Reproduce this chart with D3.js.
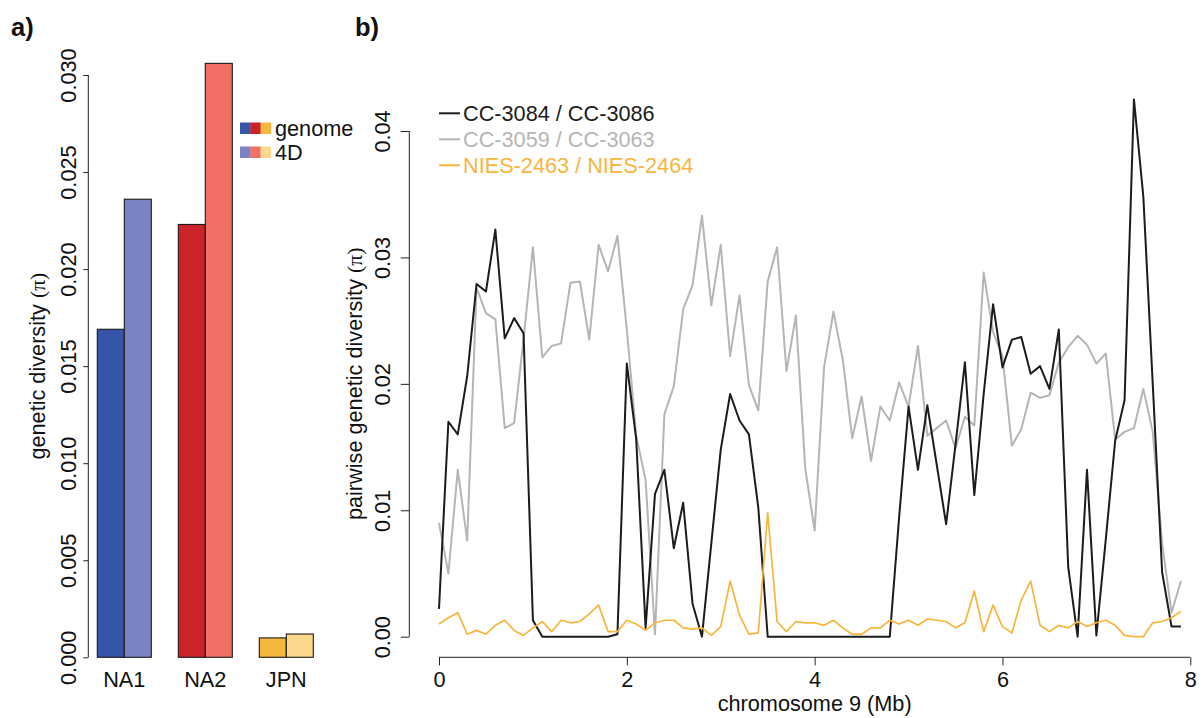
<!DOCTYPE html>
<html>
<head>
<meta charset="utf-8">
<script src="https://cdn.jsdelivr.net/npm/d3@7"></script>
<style>
  html, body { margin: 0; padding: 0; background: #fff; }
  svg { display: block; font-family: "Liberation Sans", Arial, Helvetica, sans-serif; }
</style>
</head>
<body>
<svg id="fig" width="1203" height="718"></svg>
<script>
// ---- panel a: genome-wide vs. fourfold-degenerate (4D) diversity ----
const populations = ["NA1", "NA2", "JPN"];
const siteClasses = ["genome", "4D"];
const piGenome = [0.0169, 0.0223, 0.0010];
const pi4D = [0.0236, 0.0306, 0.0012];
const colorsGenome = ["#3654aa", "#cc2229", "#f5b83d"];
const colors4D = ["#7b83c2", "#f07068", "#fad98f"];
const barTicks = [0, 0.005, 0.010, 0.015, 0.020, 0.025, 0.030];

// ---- panel b: pairwise diversity along chromosome 9 (100 kb windows) ----
const windowStartMb = [
  0.0, 0.1, 0.2, 0.3, 0.4, 0.5, 0.6, 0.7, 0.8, 0.9,
  1.0, 1.1, 1.2, 1.3, 1.4, 1.5, 1.6, 1.7, 1.8, 1.9,
  2.0, 2.1, 2.2, 2.3, 2.4, 2.5, 2.6, 2.7, 2.8, 2.9,
  3.0, 3.1, 3.2, 3.3, 3.4, 3.5, 3.6, 3.7, 3.8, 3.9,
  4.0, 4.1, 4.2, 4.3, 4.4, 4.5, 4.6, 4.7, 4.8, 4.9,
  5.0, 5.1, 5.2, 5.3, 5.4, 5.5, 5.6, 5.7, 5.8, 5.9,
  6.0, 6.1, 6.2, 6.3, 6.4, 6.5, 6.6, 6.7, 6.8, 6.9,
  7.0, 7.1, 7.2, 7.3, 7.4, 7.5, 7.6, 7.7, 7.8, 7.9
];
const piCC3084_CC3086 = [
  0.0022, 0.0170, 0.0160, 0.0206, 0.0279, 0.0273, 0.0322, 0.0236, 0.0252, 0.0240,
  0.0013, 0.0000, 0.0000, 0.0000, 0.0000, 0.0000, 0.0000, 0.0000, 0.0000, 0.0002,
  0.0216, 0.0156, 0.0007, 0.0113, 0.0132, 0.0070, 0.0106, 0.0026, 0.0000, 0.0074,
  0.0148, 0.0192, 0.0171, 0.0160, 0.0102, 0.0000, 0.0000, 0.0000, 0.0000, 0.0000,
  0.0000, 0.0000, 0.0000, 0.0000, 0.0000, 0.0000, 0.0000, 0.0000, 0.0000, 0.0095,
  0.0182, 0.0132, 0.0183, 0.0136, 0.0089, 0.0152, 0.0217, 0.0112, 0.0192, 0.0263,
  0.0213, 0.0235, 0.0237, 0.0208, 0.0214, 0.0196, 0.0243, 0.0055, 0.0000, 0.0132,
  0.0001, 0.0077, 0.0155, 0.0187, 0.0425, 0.0348, 0.0200, 0.0051, 0.0008, 0.0008
];
const piCC3059_CC3063 = [
  0.0090, 0.0050, 0.0132, 0.0076, 0.0276, 0.0256, 0.0251, 0.0165, 0.0169, 0.0235,
  0.0308, 0.0221, 0.0230, 0.0232, 0.0280, 0.0281, 0.0235, 0.0310, 0.0289, 0.0317,
  0.0243, 0.0159, 0.0124, 0.0002, 0.0176, 0.0198, 0.0259, 0.0278, 0.0333, 0.0262,
  0.0310, 0.0222, 0.0270, 0.0199, 0.0179, 0.0281, 0.0308, 0.0210, 0.0254, 0.0133,
  0.0084, 0.0213, 0.0257, 0.0219, 0.0157, 0.0190, 0.0139, 0.0182, 0.0171, 0.0201,
  0.0182, 0.0230, 0.0159, 0.0165, 0.0171, 0.0149, 0.0174, 0.0167, 0.0288, 0.0241,
  0.0222, 0.0151, 0.0164, 0.0193, 0.0189, 0.0191, 0.0217, 0.0229, 0.0238, 0.0231,
  0.0216, 0.0224, 0.0156, 0.0162, 0.0165, 0.0196, 0.0162, 0.0074, 0.0019, 0.0044
];
const piNIES2463_NIES2464 = [
  0.0010, 0.0015, 0.0019, 0.0002, 0.0005, 0.0002, 0.0009, 0.0013, 0.0005, 0.0001,
  0.0007, 0.0012, 0.0004, 0.0013, 0.0011, 0.0012, 0.0018, 0.0025, 0.0004, 0.0004,
  0.0013, 0.0010, 0.0005, 0.0011, 0.0013, 0.0013, 0.0007, 0.0006, 0.0007, 0.0001,
  0.0008, 0.0044, 0.0017, 0.0002, 0.0003, 0.0098, 0.0012, 0.0004, 0.0012, 0.0011,
  0.0011, 0.0009, 0.0013, 0.0007, 0.0002, 0.0002, 0.0007, 0.0007, 0.0013, 0.0010,
  0.0013, 0.0009, 0.0014, 0.0013, 0.0012, 0.0007, 0.0011, 0.0036, 0.0004, 0.0025,
  0.0008, 0.0003, 0.0029, 0.0044, 0.0009, 0.0004, 0.0009, 0.0007, 0.0012, 0.0008,
  0.0011, 0.0013, 0.0009, 0.0001, 0.0000, 0.0000, 0.0011, 0.0012, 0.0015, 0.0020
];
const pairNames = ["CC-3084 / CC-3086", "CC-3059 / CC-3063", "NIES-2463 / NIES-2464"];
const pairColors = ["#1c1c1c", "#b5b5b5", "#f8b53c"];
const lineTicksY = [0, 0.01, 0.02, 0.03, 0.04];
const lineTicksX = [0, 2, 4, 6, 8];

const svg = d3.select("#fig");
const FS = 21.7;

// ---------------- panel a ----------------
const ga = svg.append("g");
const yA = d3.scaleLinear().domain([0, 0.03]).range([657.3, 75]);
const xA = d3.scaleBand().domain(populations).range([97.3, 313.3])
  .paddingInner(1 / 3).paddingOuter(0);
const xSub = d3.scaleBand().domain(siteClasses).range([0, xA.bandwidth()]);

const barData = [];
populations.forEach((p, i) => {
  barData.push({ pop: p, cls: "genome", v: piGenome[i], c: colorsGenome[i] });
  barData.push({ pop: p, cls: "4D", v: pi4D[i], c: colors4D[i] });
});
ga.selectAll("rect.bar").data(barData).join("rect")
  .attr("class", "bar")
  .attr("x", d => xA(d.pop) + xSub(d.cls))
  .attr("width", xSub.bandwidth())
  .attr("y", d => yA(d.v))
  .attr("height", d => yA(0) - yA(d.v))
  .attr("fill", d => d.c)
  .attr("stroke", "#1a1a1a")
  .attr("stroke-width", 1.1);

// y axis (rotated tick labels, R style)
const axA = ga.append("g").attr("transform", "translate(88.3,0)")
  .call(d3.axisLeft(yA).tickValues(barTicks).tickFormat(d3.format(".3f"))
    .tickSize(5).tickSizeOuter(0));
axA.select(".domain").attr("d", `M0,${yA(0)}V${yA(0.03)}`).attr("stroke", "#222");
axA.selectAll(".tick line").attr("stroke", "#222");
axA.selectAll(".tick text")
  .attr("font-size", FS).attr("font-family", "Liberation Sans, Arial, sans-serif")
  .attr("fill", "#111")
  .attr("transform", "rotate(-90)")
  .attr("x", 0).attr("y", -12.3).attr("dy", 0)
  .attr("text-anchor", "middle");

// category labels
ga.selectAll("text.cat").data(populations).join("text")
  .attr("class", "cat")
  .attr("x", d => xA(d) + xA.bandwidth() / 2)
  .attr("y", 687)
  .attr("text-anchor", "middle")
  .attr("font-size", FS).attr("fill", "#111")
  .text(d => d);

// y label
const ylabA = ga.append("text")
  .attr("transform", `translate(45,${(yA(0) + yA(0.03)) / 2}) rotate(-90)`)
  .attr("text-anchor", "middle").attr("font-size", FS).attr("fill", "#111");
ylabA.append("tspan").text("genetic diversity ");
ylabA.append("tspan").attr("font-family", "Liberation Serif, Times New Roman, serif").text("(π)");

// legend
const legA = ga.append("g").attr("transform", "translate(240,0)");
const legRows = [
  { label: "genome", colors: colorsGenome, y: 122.5 },
  { label: "4D", colors: colors4D, y: 146.5 }
];
legRows.forEach(r => {
  legA.selectAll(null).data(r.colors).join("rect")
    .attr("x", (d, i) => i * 10.3).attr("y", r.y)
    .attr("width", 10.6).attr("height", 11.5)
    .attr("fill", d => d);
  legA.append("text").attr("x", 35).attr("y", r.y + 13)
    .attr("font-size", FS).attr("fill", "#111").text(r.label);
});

// panel tag
svg.append("text").attr("x", 11).attr("y", 36)
  .attr("font-size", 25.5).attr("font-weight", "bold").attr("fill", "#111").text("a)");

// ---------------- panel b ----------------
const gb = svg.append("g");
const xB = d3.scaleLinear().domain([0, 8]).range([439, 1190.3]);
const yB = d3.scaleLinear().domain([0, 0.04]).range([636.7, 131]);

const axBY = gb.append("g").attr("transform", "translate(409.3,0)")
  .call(d3.axisLeft(yB).tickValues(lineTicksY).tickFormat(d3.format(".2f"))
    .tickSize(8.5).tickSizeOuter(0));
axBY.select(".domain").attr("d", `M0,${yB(0)}V${yB(0.04)}`).attr("stroke", "#222");
axBY.selectAll(".tick line").attr("stroke", "#222");
axBY.selectAll(".tick text")
  .attr("font-size", FS).attr("font-family", "Liberation Sans, Arial, sans-serif")
  .attr("fill", "#111")
  .attr("transform", "rotate(-90)")
  .attr("x", 0).attr("y", -19).attr("dy", 0)
  .attr("text-anchor", "middle");

const axBX = gb.append("g").attr("transform", "translate(0,657.3)")
  .call(d3.axisBottom(xB).tickValues(lineTicksX).tickFormat(d3.format("d"))
    .tickSize(8).tickSizeOuter(0));
axBX.select(".domain").attr("d", `M${xB(0)},0H${xB(8)}`).attr("stroke", "#222");
axBX.selectAll(".tick line").attr("stroke", "#222");
axBX.selectAll(".tick text")
  .attr("font-size", FS).attr("font-family", "Liberation Sans, Arial, sans-serif")
  .attr("fill", "#111").attr("y", 30).attr("dy", 0);

const series = [piCC3084_CC3086, piCC3059_CC3063, piNIES2463_NIES2464];
const widths = [2, 2, 1.7];
const drawOrder = [1, 0, 2];
const line = d3.line().x((d, i) => xB(windowStartMb[i])).y(d => yB(d));
drawOrder.forEach(k => {
  gb.append("path").datum(series[k])
    .attr("d", line)
    .attr("fill", "none")
    .attr("stroke", pairColors[k])
    .attr("stroke-width", widths[k])
    .attr("stroke-linejoin", "round");
});

// legend
pairNames.forEach((name, k) => {
  const y = 113.3 + k * 26;
  gb.append("line").attr("x1", 439).attr("x2", 460).attr("y1", y).attr("y2", y)
    .attr("stroke", pairColors[k]).attr("stroke-width", 2);
  gb.append("text").attr("x", 463).attr("y", y + 7.6)
    .attr("font-size", FS).attr("fill", pairColors[k]).text(name);
});

// axis titles
const ylabB = gb.append("text")
  .attr("transform", `translate(362,${(yB(0) + yB(0.04)) / 2}) rotate(-90)`)
  .attr("text-anchor", "middle").attr("font-size", FS).attr("fill", "#111");
ylabB.append("tspan").text("pairwise genetic diversity ");
ylabB.append("tspan").attr("font-family", "Liberation Serif, Times New Roman, serif").text("(π)");

gb.append("text").attr("x", (xB(0) + xB(8)) / 2).attr("y", 711)
  .attr("text-anchor", "middle").attr("font-size", FS).attr("fill", "#111")
  .text("chromosome 9 (Mb)");

svg.append("text").attr("x", 355).attr("y", 36)
  .attr("font-size", 25.5).attr("font-weight", "bold").attr("fill", "#111").text("b)");
</script>
</body>
</html>
